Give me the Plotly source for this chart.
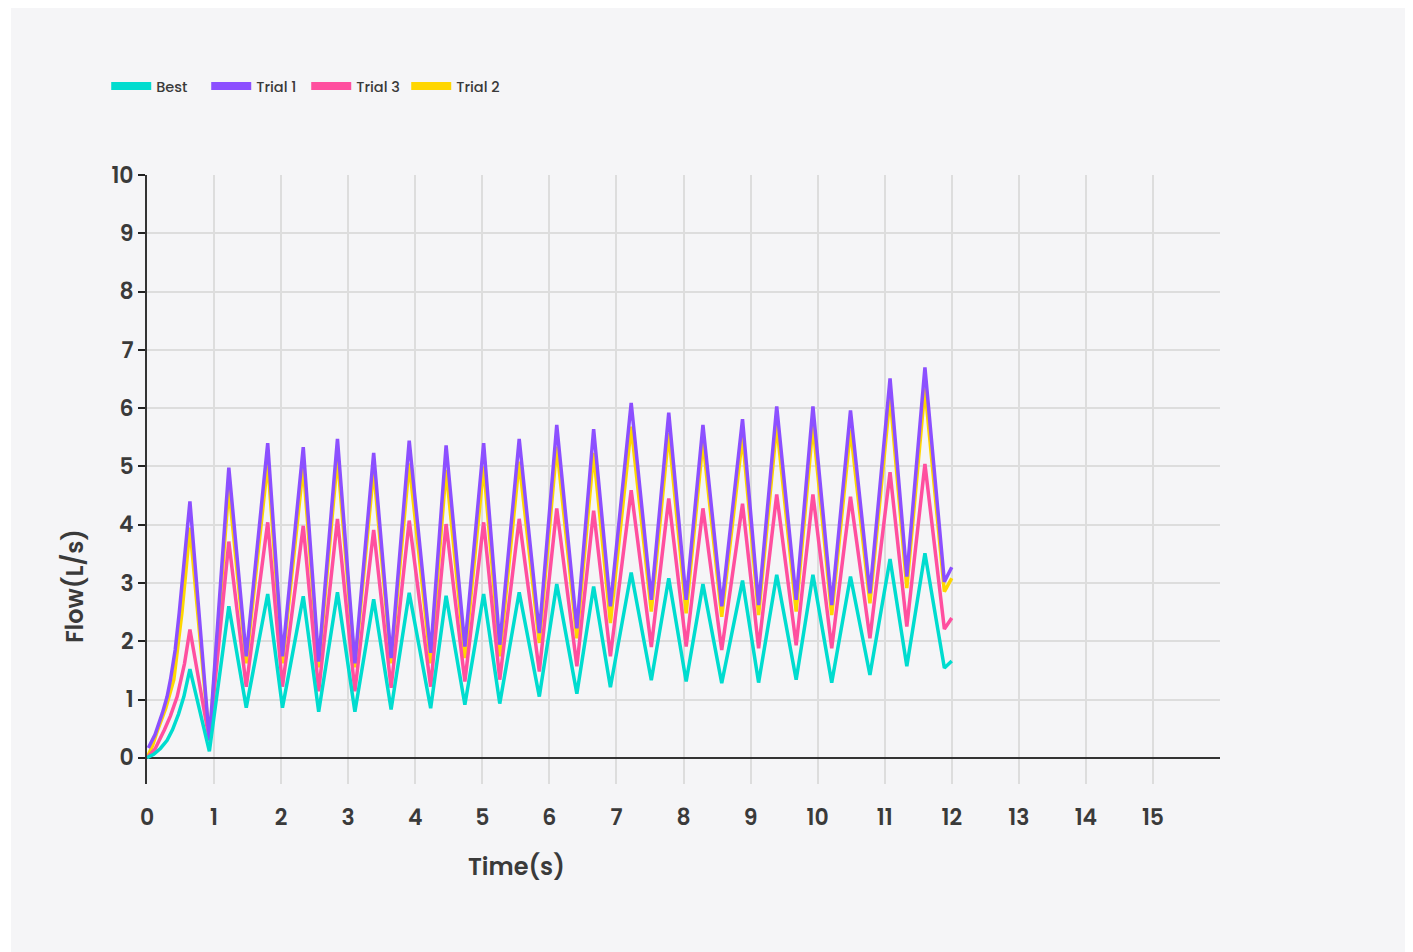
import plotly.graph_objects as go

# ---- data ----
peak_t = [0.64, 1.22, 1.80, 2.33, 2.84, 3.38, 3.91, 4.46, 5.02, 5.55, 6.11,
          6.66, 7.22, 7.78, 8.29, 8.88, 9.39, 9.93, 10.49, 11.08, 11.60]
trough_t = [0.93, 1.48, 2.02, 2.56, 3.10, 3.64, 4.23, 4.74, 5.26, 5.85, 6.41,
            6.91, 7.52, 8.04, 8.57, 9.12, 9.68, 10.21, 10.78, 11.33, 11.89]
end_t = 12.0

# Best
best_x_start = [0.0, 0.1, 0.2, 0.3, 0.38, 0.47, 0.55]
best_y_start = [0.0, 0.06, 0.16, 0.30, 0.48, 0.75, 1.05]
best_peaks = [1.52, 2.60, 2.81, 2.77, 2.84, 2.72, 2.83, 2.78, 2.81, 2.84, 2.98,
              2.94, 3.18, 3.08, 2.98, 3.04, 3.14, 3.14, 3.11, 3.41, 3.51]
best_troughs = [0.11, 0.86, 0.86, 0.79, 0.79, 0.83, 0.85, 0.91, 0.93, 1.05, 1.10,
                1.21, 1.33, 1.31, 1.28, 1.29, 1.34, 1.29, 1.42, 1.57, 1.54]
best_end = 1.66

# Trial 1
t1_x_start = [0.02, 0.12, 0.23, 0.30, 0.35, 0.42, 0.48, 0.57]
t1_y_start = [0.17, 0.40, 0.77, 1.05, 1.34, 1.85, 2.48, 3.62]
t1_peaks = [4.40, 4.98, 5.40, 5.33, 5.47, 5.23, 5.44, 5.36, 5.40, 5.47, 5.71,
            5.64, 6.09, 5.92, 5.71, 5.81, 6.03, 6.03, 5.96, 6.51, 6.70]
t1_troughs = [0.30, 1.74, 1.74, 1.65, 1.62, 1.71, 1.80, 1.91, 1.94, 2.14, 2.22,
              2.60, 2.71, 2.71, 2.60, 2.62, 2.71, 2.62, 2.82, 3.11, 3.02]
t1_end = 3.27

# Trial 3
t3_x_start = [0.0, 0.12, 0.26, 0.35, 0.45, 0.56]
t3_y_start = [0.0, 0.15, 0.48, 0.72, 1.05, 1.62]
t3_peaks = [2.20, 3.71, 4.04, 3.98, 4.10, 3.91, 4.07, 4.01, 4.04, 4.10, 4.28,
            4.24, 4.59, 4.45, 4.28, 4.36, 4.52, 4.52, 4.48, 4.90, 5.04]
t3_troughs = [0.30, 1.22, 1.22, 1.14, 1.14, 1.20, 1.22, 1.31, 1.34, 1.48, 1.57,
              1.74, 1.90, 1.91, 1.85, 1.88, 1.93, 1.88, 2.05, 2.25, 2.21]
t3_end = 2.40

# Trial 2
t2_x_start = [0.0, 0.08, 0.16, 0.28, 0.40, 0.52, 0.58]
t2_y_start = [0.0, 0.20, 0.48, 0.85, 1.34, 2.48, 3.20]
t2_peaks = [3.95, 4.63, 5.06, 5.00, 5.15, 4.94, 5.05, 4.94, 5.00, 5.08, 5.34,
            5.23, 5.68, 5.57, 5.43, 5.51, 5.71, 5.71, 5.63, 6.20, 6.34]
t2_troughs = [0.30, 1.62, 1.62, 1.55, 1.55, 1.62, 1.62, 1.71, 1.74, 1.97, 2.05,
              2.31, 2.51, 2.48, 2.42, 2.45, 2.51, 2.45, 2.65, 2.91, 2.85]
t2_end = 3.08

names = ["Best", "Trial 1", "Trial 3", "Trial 2"]
colors = ["#00dccf", "#8c4fff", "#ff4f9f", "#ffd600"]
x_ticks = list(range(0, 16))
y_ticks = list(range(0, 11))


def build(xs, ys, peaks, troughs, end):
    X = list(xs)
    Y = list(ys)
    for pt, pv, tt, tv in zip(peak_t, peaks, trough_t, troughs):
        X += [pt, tt]
        Y += [pv, tv]
    X.append(end_t)
    Y.append(end)
    return X, Y


series = {
    "Best": build(best_x_start, best_y_start, best_peaks, best_troughs, best_end),
    "Trial 1": build(t1_x_start, t1_y_start, t1_peaks, t1_troughs, t1_end),
    "Trial 3": build(t3_x_start, t3_y_start, t3_peaks, t3_troughs, t3_end),
    "Trial 2": build(t2_x_start, t2_y_start, t2_peaks, t2_troughs, t2_end),
}

fig = go.Figure()

# draw order: Trial 2 (bottom), Trial 3, Trial 1, Best (top)
for name in ["Trial 2", "Trial 3", "Trial 1", "Best"]:
    c = colors[names.index(name)]
    X, Y = series[name]
    fig.add_trace(go.Scatter(x=X, y=Y, mode="lines", name=name,
                             line=dict(color=c, width=3.5),
                             showlegend=False, hoverinfo="x+y+name"))

# legend entries in reference order
for name, c in zip(names, colors):
    fig.add_trace(go.Scatter(x=[None], y=[None], mode="lines", name=name,
                             line=dict(color=c, width=8), showlegend=True))

font_family = "Poppins, Inter, 'Open Sans', sans-serif"
text_color = "#3a3a3a"

fig.update_layout(
    width=1405, height=944,
    paper_bgcolor="#ffffff",
    plot_bgcolor="#f5f5f7",
    margin=dict(l=139, r=193, t=167, b=168),
    font=dict(family=font_family, color=text_color),
    legend=dict(orientation="h", x=-0.038, y=1.146, xanchor="left", yanchor="middle",
                font=dict(size=14.5, color=text_color, weight=500),
                bgcolor="rgba(0,0,0,0)", itemwidth=40, tracegroupgap=0,
                entrywidth=45, entrywidthmode="pixels"),
    xaxis=dict(range=[0, 16], tickmode="array", tickvals=x_ticks,
               showgrid=True, gridcolor="#dddddd", gridwidth=2,
               zeroline=False, showline=False,
               ticks="outside", ticklen=14, tickcolor="rgba(0,0,0,0)",
               tickfont=dict(size=22, color=text_color, weight=600),
               fixedrange=True),
    yaxis=dict(range=[-0.45, 10], tickmode="array", tickvals=y_ticks,
               showgrid=True, gridcolor="#dddddd", gridwidth=2,
               zeroline=True, zerolinecolor="#333333", zerolinewidth=2,
               showline=True, linecolor="#333333", linewidth=2,
               ticks="outside", ticklen=7, tickwidth=2, tickcolor="#222222",
               tickfont=dict(size=22, color=text_color, weight=600),
               fixedrange=True),
    shapes=[
        dict(type="rect", xref="paper", yref="paper",
             x0=-0.1267, x1=1.179, y0=-0.35, y1=1.2775,
             fillcolor="#f5f5f7", line=dict(width=0), layer="below"),
    ],
    annotations=[
        dict(text="Time(s)", xref="paper", yref="paper", x=0.344, y=-0.136,
             showarrow=False, xanchor="center", yanchor="middle",
             font=dict(size=24, color=text_color, weight=600)),
        dict(text="Flow(L/s)", xref="paper", yref="paper", x=-0.068, y=0.325,
             showarrow=False, xanchor="center", yanchor="middle", textangle=-90,
             font=dict(size=24, color=text_color, weight=600)),
    ],
)

fig.write_html("out.html")
